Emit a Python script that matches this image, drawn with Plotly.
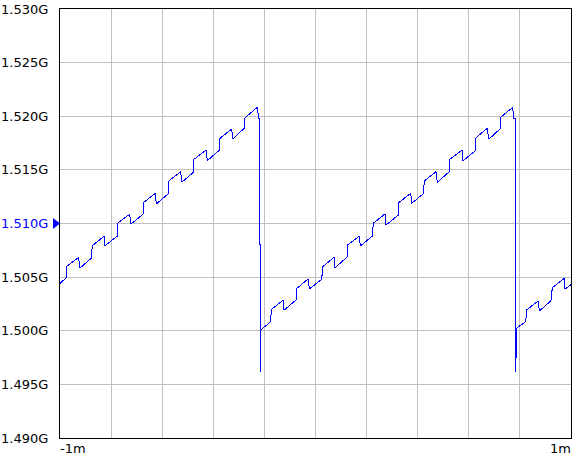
import plotly.graph_objects as go

# time axis in ms, level in GHz (vertices of the staircase trace)
time_ms = [
    -1.0000, -0.9753, -0.9753, -0.9268, -0.9229, -0.8775, -0.8736, -0.8278,
    -0.8250, -0.7757, -0.7757, -0.7272, -0.7233, -0.6751, -0.6712, -0.6270,
    -0.6231, -0.5773, -0.5746, -0.5276, -0.5237, -0.4783, -0.4755, -0.4286,
    -0.4235, -0.3765, -0.3738, -0.3280, -0.3241, -0.2787, -0.2759, -0.2278,
    -0.2223, -0.2200, -0.2200, -0.2160, -0.2160, -0.2145,
    -0.1781, -0.1714, -0.1272, -0.1233, -0.0763, -0.0724, -0.0282, -0.0243,
    0.0243, 0.0282, 0.0724, 0.0763, 0.1233, 0.1260, 0.1714, 0.1753,
    0.2223, 0.2262, 0.2720, 0.2759, 0.3241, 0.3256, 0.3726, 0.3765,
    0.4219, 0.4258, 0.4716, 0.4767, 0.5237, 0.5264, 0.5734, 0.5761,
    0.6243, 0.6282, 0.6724, 0.6779, 0.7221, 0.7249, 0.7718, 0.7757,
    0.7820, 0.7820, 0.7859, 0.7859,
    0.8227, 0.8266, 0.8720, 0.8759, 0.9217, 0.9268, 0.9738, 0.9765, 1.0000,
]
level_g = [
    1.50442, 1.50495, 1.50597, 1.50685, 1.50582, 1.50676, 1.50793, 1.50881,
    1.50790, 1.50883, 1.51002, 1.51086, 1.50993, 1.51086, 1.51198, 1.51282,
    1.51182, 1.51275, 1.51396, 1.51483, 1.51384, 1.51477, 1.51599, 1.51683,
    1.51586, 1.51683, 1.51794, 1.51881, 1.51788, 1.51888, 1.51987, 1.52083,
    1.51981, 1.51981, 1.50800, 1.50800, 1.49618, 1.50007,
    1.50079, 1.50200, 1.50284, 1.50191, 1.50287, 1.50396, 1.50485, 1.50389,
    1.50480, 1.50597, 1.50685, 1.50588, 1.50685, 1.50800, 1.50883, 1.50790,
    1.50883, 1.51002, 1.51089, 1.50986, 1.51079, 1.51194, 1.51282, 1.51188,
    1.51278, 1.51396, 1.51483, 1.51384, 1.51483, 1.51599, 1.51685, 1.51583,
    1.51676, 1.51800, 1.51888, 1.51785, 1.51881, 1.51990, 1.52083, 1.51981,
    1.51981, 1.49618, 1.49795, 1.50023,
    1.50084, 1.50194, 1.50280, 1.50184, 1.50280, 1.50401, 1.50489, 1.50389, 1.50430,
]

y_ticks = [1.490, 1.495, 1.500, 1.505, 1.510, 1.515, 1.520, 1.525, 1.530]
y_labels = ["1.490G", "1.495G", "1.500G", "1.505G", "1.510G",
            "1.515G", "1.520G", "1.525G", "1.530G"]
x_grid = [-1.0, -0.8, -0.6, -0.4, -0.2, 0.0, 0.2, 0.4, 0.6, 0.8, 1.0]
x_labels = ["-1m", "1m"]
marker_level = 1.510

font = dict(family="DejaVu Sans", size=13, color="#000000")

y_text = [f'<span style="color:#0000ff">{t}</span>' if v == marker_level else t
          for v, t in zip(y_ticks, y_labels)]

fig = go.Figure(go.Scatter(x=time_ms, y=level_g, mode="lines",
                           line=dict(color="#0000ff", width=1),
                           hoverinfo="skip"))

fig.update_xaxes(range=[-1, 1], tickvals=x_grid, showticklabels=False,
                 ticks="", showgrid=True, gridcolor="#c0c0c0", gridwidth=1,
                 zeroline=False, showline=True, mirror=True, automargin=False,
                 linecolor="#000000", linewidth=1)
fig.update_yaxes(range=[1.490, 1.530], tickvals=y_ticks, ticktext=y_text,
                 ticks="", ticklabelstandoff=8, tickfont=font, automargin=False,
                 showgrid=True, gridcolor="#c0c0c0", gridwidth=1,
                 zeroline=False, showline=True, mirror=True,
                 linecolor="#000000", linewidth=1)

fig.add_shape(type="path", xref="paper", yref="y", xsizemode="pixel",
              ysizemode="pixel", xanchor=0, yanchor=marker_level,
              path="M -7,-5.5 L 0,0 L -7,5.5 Z",
              fillcolor="#0000ff", line=dict(width=0), layer="above")

fig.add_annotation(x=0, y=0, xref="paper", yref="paper", text=x_labels[0],
                   xanchor="left", yanchor="top", showarrow=False,
                   font=font, yshift=-1, xshift=-2)
fig.add_annotation(x=1, y=0, xref="paper", yref="paper", text=x_labels[1],
                   xanchor="right", yanchor="top", showarrow=False,
                   font=font, yshift=-1, xshift=2)

fig.update_layout(
    width=580, height=456,
    showlegend=False,
    plot_bgcolor="#ffffff", paper_bgcolor="#ffffff",
    margin=dict(l=60, r=9, t=9, b=18, autoexpand=False),
    font=font,
)

# no page margin, and aliased trace line like the original instrument plot
fig.write_html("out.html", config={"displayModeBar": False},
               post_script="document.body.style.margin='0';"
                           "document.body.style.overflow='hidden';"
                           "document.querySelectorAll('.scatterlayer path')"
                           ".forEach(function(p){p.style.shapeRendering='crispEdges';});")
